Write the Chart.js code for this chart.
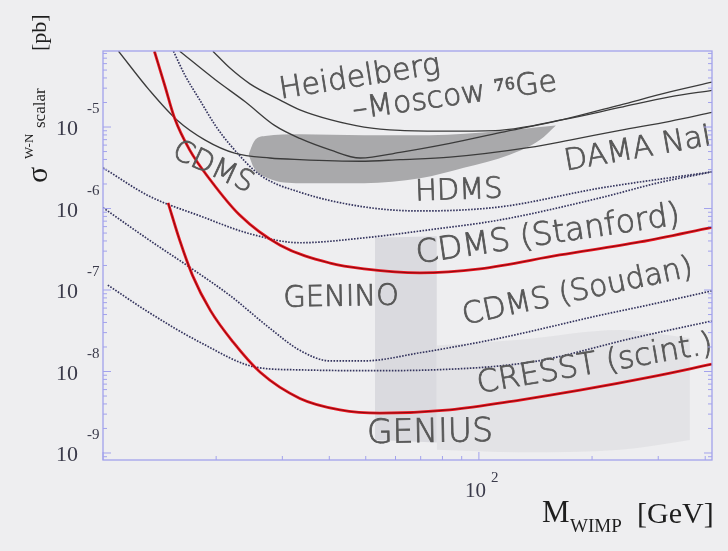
<!DOCTYPE html>
<html>
<head>
<meta charset="utf-8">
<script src="https://cdn.jsdelivr.net/npm/chart.js@4"></script>
<style>
  html, body { margin: 0; padding: 0; background: #eeeef0; }
</style>
</head>
<body>
<canvas id="myChart" width="728" height="551"></canvas>
<script>
// WIMP mass [GeV] and log10(sigma / pb)
var hmMass = [19.6, 21.8, 24.6, 29.6, 33.4, 40.2, 49.5, 61.7, 83.7, 113.8, 167.2, 237.3, 322.1, 416.9];
var hmLogSig = [-4.07, -4.28, -4.47, -4.67, -4.79, -4.91, -5.00, -5.04, -5.05, -5.04, -4.91, -4.76, -4.63, -4.55];

var damaMass = [11.0, 13.3, 15.7, 18.7, 22.4, 27.8, 33.4, 48.3, 61.7, 83.7, 136.7, 174.6, 237.3, 322.1, 416.9];
var damaLogSig = [-4.07, -4.55, -4.91, -5.16, -5.32, -5.38, -5.40, -5.42, -5.40, -5.37, -5.25, -5.16, -5.04, -4.93, -4.82];

var geMass = [16.0, 19.9, 23.9, 28.6, 33.4, 40.2, 48.3, 61.7, 83.7, 113.8, 167.2, 237.3, 322.1, 416.9];
var geLogSig = [-4.07, -4.42, -4.69, -4.98, -5.14, -5.28, -5.38, -5.31, -5.20, -5.07, -4.91, -4.73, -4.57, -4.45];

var cdmsMass = [13.7, 14.6, 15.5, 17.0, 19.3, 23.1, 29.6, 40.2, 49.5, 69.7, 100.7, 164.1, 268.2, 416.9];
var cdmsLogSig = [-4.07, -4.49, -4.89, -5.28, -5.65, -6.08, -6.45, -6.67, -6.74, -6.79, -6.74, -6.57, -6.41, -6.23];

var geniusMass = [14.9, 16.0, 17.3, 19.3, 22.2, 26.2, 33.4, 42.7, 54.5, 83.7, 128.6, 185.6, 285.1, 416.9];
var geniusLogSig = [-5.93, -6.39, -6.82, -7.25, -7.64, -8.01, -8.33, -8.47, -8.51, -8.47, -8.35, -8.23, -8.07, -7.91];

var hdmsMass = [15.4, 16.5, 18.1, 19.9, 21.8, 26.2, 33.4, 49.5, 69.7, 113.8, 209.9, 416.9];
var hdmsLogSig = [-4.07, -4.36, -4.67, -4.98, -5.22, -5.59, -5.80, -5.98, -6.03, -5.98, -5.75, -5.55];

var stanfordMass = [10.0, 13.3, 18.1, 24.6, 33.4, 49.5, 74.1, 113.8, 209.9, 302.9, 416.9];
var stanfordLogSig = [-5.50, -5.85, -6.09, -6.31, -6.42, -6.36, -6.26, -6.14, -5.87, -5.68, -5.55];

var soudanMass = [10.0, 13.3, 17.0, 21.8, 27.8, 33.4, 40.2, 49.5, 69.7, 113.8, 209.9, 285.1, 416.9];
var soudanLogSig = [-5.99, -6.39, -6.72, -7.07, -7.47, -7.74, -7.87, -7.87, -7.77, -7.59, -7.31, -7.18, -7.01];

var cresstMass = [10.3, 13.3, 18.1, 25.7, 33.4, 49.5, 75.5, 139.3, 257.0, 416.9];
var cresstLogSig = [-6.94, -7.28, -7.64, -7.95, -7.98, -7.99, -7.98, -7.88, -7.59, -7.38];

// DAMA allowed region (upper / lower edge)
var damaUpMass = [24.4, 25.2, 27.0, 33.4, 49.5, 74.1, 113.8, 145.2, 160.3];
var damaUpLogSig = [-5.34, -5.18, -5.11, -5.09, -5.10, -5.10, -5.05, -5.00, -4.98];
var damaLoMass = [24.4, 25.2, 27.5, 33.4, 49.5, 69.7, 91.2, 120.8, 145.2, 160.3];
var damaLoLogSig = [-5.34, -5.50, -5.63, -5.69, -5.69, -5.63, -5.50, -5.34, -5.16, -4.98];

// GENINO scatter region, two light patches
var geninoAMass = [52.9, 77.3];
var geninoAUp = [-6.36, -6.34];
var geninoALo = [-8.84, -8.87];
var geninoBMass = [77.3, 128.6, 237.3, 364.1];
var geninoBUp = [-7.68, -7.61, -7.49, -7.59];
var geninoBLo = [-8.96, -8.99, -8.96, -8.84];

var yDecades = [-9, -8, -7, -6, -5];
var xDecades = [2];

function pts(m, ls) {
  return m.map(function (v, i) { return { x: v, y: Math.pow(10, ls[i]) }; });
}

function curve(m, ls, color, width, dash) {
  return {
    data: pts(m, ls),
    borderColor: color,
    borderWidth: width,
    borderDash: dash || [],
    pointRadius: 0,
    fill: false,
    cubicInterpolationMode: 'monotone'
  };
}

function area(m, ls, fillTo, color) {
  return {
    data: pts(m, ls),
    borderColor: 'rgba(0,0,0,0)',
    borderWidth: 1,
    pointRadius: 0,
    fill: fillTo,
    backgroundColor: color,
    cubicInterpolationMode: 'monotone'
  };
}

var dark = '#3b3b3b';
var dots = '#34345e';
var red = '#ec1620';

var textLabels = [
  { t: 'Heidelberg', m: 48.2, ls: -4.40, a: -9, s: 30 },
  { t: '\u2013Moscow \u2077\u2076Ge', m: 86.3, ls: -4.63, a: -8, s: 30 },
  { t: 'CDMS', m: 19.6, ls: -5.50, a: 25, s: 29 },
  { t: 'DAMA NaI', m: 265, ls: -5.28, a: -10, s: 30 },
  { t: 'HDMS', m: 88.5, ls: -5.79, a: -2, s: 29 },
  { t: 'CDMS (Stanford)', m: 152.8, ls: -6.33, a: -8.5, s: 32 },
  { t: 'GENINO', m: 43.0, ls: -7.10, a: -1, s: 29 },
  { t: 'CDMS (Soudan)', m: 183.2, ls: -7.03, a: -12, s: 30 },
  { t: 'CRESST (scint.)', m: 203.7, ls: -7.92, a: -9.7, s: 31 },
  { t: 'GENIUS', m: 74.1, ls: -8.76, a: -1, s: 33 }
];

var decor = {
  id: 'decor',
  afterDraw: function (chart) {
    var ctx = chart.ctx, a = chart.chartArea;
    var xs = chart.scales.x, ys = chart.scales.y;
    ctx.save();

    // labels inside the plot
    ctx.save();
    ctx.beginPath();
    ctx.rect(a.left, a.top, a.right - a.left, a.bottom - a.top);
    ctx.clip();
    ctx.fillStyle = '#575757';
    ctx.strokeStyle = '#575757';
    ctx.lineWidth = 0.8;
    ctx.textAlign = 'center';
    ctx.textBaseline = 'middle';
    textLabels.forEach(function (l) {
      ctx.save();
      ctx.translate(xs.getPixelForValue(l.m), ys.getPixelForValue(Math.pow(10, l.ls)));
      ctx.rotate(l.a * Math.PI / 180);
      ctx.font = '200 ' + l.s + 'px "DejaVu Sans"';
      ctx.fillText(l.t, 0, 0);
      ctx.strokeText(l.t, 0, 0);
      ctx.restore();
    });
    ctx.restore();

    // frame and ticks
    ctx.strokeStyle = '#a2a2ec';
    ctx.lineWidth = 1.3;
    ctx.strokeRect(a.left, a.top, a.right - a.left, a.bottom - a.top);
    ctx.lineWidth = 1;
    for (var e = -10; e <= -4; e++) {
      for (var k = 1; k < 10; k++) {
        var v = k * Math.pow(10, e);
        if (v < ys.min || v > ys.max) continue;
        var py = ys.getPixelForValue(v);
        var len = k === 1 ? 8 : 4;
        ctx.beginPath();
        ctx.moveTo(a.left, py); ctx.lineTo(a.left + len, py);
        ctx.moveTo(a.right, py); ctx.lineTo(a.right - len, py);
        ctx.stroke();
      }
    }
    for (e = 1; e <= 2; e++) {
      for (k = 1; k < 10; k++) {
        v = k * Math.pow(10, e);
        if (v < xs.min || v > xs.max) continue;
        var px = xs.getPixelForValue(v);
        len = k === 1 ? 8 : 4;
        ctx.beginPath();
        ctx.moveTo(px, a.bottom); ctx.lineTo(px, a.bottom - len);
        ctx.stroke();
      }
    }

    // tick labels
    ctx.fillStyle = '#3a3a4a';
    ctx.textBaseline = 'alphabetic';
    yDecades.forEach(function (d) {
      var py = ys.getPixelForValue(Math.pow(10, d));
      ctx.textAlign = 'right';
      ctx.font = '22px "Liberation Serif"';
      ctx.fillText('10', a.left - 25, py + 8);
      ctx.textAlign = 'left';
      ctx.font = '15px "Liberation Serif"';
      ctx.fillText(String(d), a.left - 16, py - 14);
    });
    xDecades.forEach(function (d) {
      var px = xs.getPixelForValue(Math.pow(10, d));
      ctx.textAlign = 'right';
      ctx.font = '21px "Liberation Serif"';
      ctx.fillText('10', px + 7, a.bottom + 37);
      ctx.textAlign = 'left';
      ctx.font = '15px "Liberation Serif"';
      ctx.fillText(String(d), px + 12, a.bottom + 22);
    });

    // axis titles
    ctx.fillStyle = '#1e1e1e';
    ctx.textAlign = 'left';
    ctx.font = '31px "Liberation Serif"';
    ctx.fillText('M', 542, 522);
    ctx.font = '19px "Liberation Serif"';
    ctx.fillText('WIMP', 570, 532);
    ctx.font = '30px "Liberation Serif"';
    ctx.fillText('[GeV]', 637, 523);

    ctx.save();
    ctx.translate(47, 183);
    ctx.rotate(-Math.PI / 2);
    ctx.font = '30px "Liberation Serif"';
    ctx.fillText('\u03c3', 0, 0);
    ctx.font = '13px "Liberation Serif"';
    ctx.fillText('W-N', 24, -14);
    ctx.font = '17px "Liberation Serif"';
    ctx.fillText('scalar', 55, -2);
    ctx.font = '22px "Liberation Serif"';
    ctx.fillText('[pb]', 132, -1);
    ctx.restore();

    ctx.restore();
  }
};

var ctx = document.getElementById('myChart').getContext('2d');
var myChart = new Chart(ctx, {
  type: 'line',
  data: {
    datasets: [
      curve(cdmsMass, cdmsLogSig, 'rgba(40,0,0,0.75)', 0.7),
      curve(geniusMass, geniusLogSig, 'rgba(40,0,0,0.75)', 0.7),
      curve(cdmsMass, cdmsLogSig, red, 2.8),
      curve(geniusMass, geniusLogSig, red, 2.8),
      curve(hmMass, hmLogSig, dark, 1.3),
      curve(damaMass, damaLogSig, dark, 1.3),
      curve(geMass, geLogSig, dark, 1.3),
      curve(hdmsMass, hdmsLogSig, dots, 1.7, [1.6, 1.4]),
      curve(stanfordMass, stanfordLogSig, dots, 1.7, [1.6, 1.4]),
      curve(soudanMass, soudanLogSig, dots, 1.7, [1.6, 1.4]),
      curve(cresstMass, cresstLogSig, dots, 1.7, [1.6, 1.4]),
      area(damaUpMass, damaUpLogSig, false, 'rgba(0,0,0,0)'),
      area(damaLoMass, damaLoLogSig, '-1', '#a9a9ab'),
      area(geninoAMass, geninoAUp, false, 'rgba(0,0,0,0)'),
      area(geninoAMass, geninoALo, '-1', 'rgba(170,170,178,0.28)'),
      area(geninoBMass, geninoBUp, false, 'rgba(0,0,0,0)'),
      area(geninoBMass, geninoBLo, '-1', 'rgba(185,185,192,0.2)')
    ]
  },
  options: {
    responsive: false,
    animation: false,
    layout: { padding: { left: 0, top: 51, right: 16, bottom: 0 } },
    plugins: {
      legend: { display: false },
      tooltip: { enabled: false },
      filler: { drawTime: 'beforeDatasetsDraw' }
    },
    scales: {
      x: {
        type: 'logarithmic',
        min: 10,
        max: 417,
        grid: { display: false },
        border: { display: false },
        ticks: { display: false },
        afterFit: function (s) { s.height = 91; }
      },
      y: {
        type: 'logarithmic',
        min: Math.pow(10, -9.086),
        max: Math.pow(10, -4.067),
        grid: { display: false },
        border: { display: false },
        ticks: { display: false },
        afterFit: function (s) { s.width = 103; }
      }
    }
  },
  plugins: [decor]
});
</script>
</body>
</html>
